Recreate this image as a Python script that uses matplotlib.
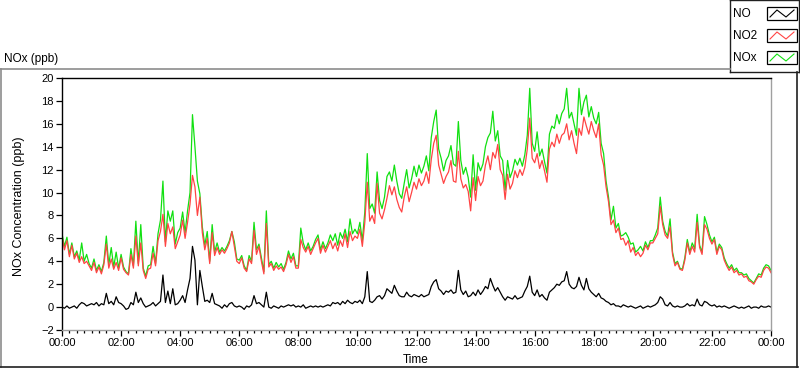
import numpy as np
import matplotlib
matplotlib.use("Agg")
import matplotlib.pyplot as plt
from matplotlib.lines import Line2D
from matplotlib.patches import Rectangle
from matplotlib.ticker import MultipleLocator, FuncFormatter

# 5-minute samples, one row per hour (ppb)
no2 = [
    6.2, 5.0, 5.8, 4.4, 5.4, 4.2, 4.7, 3.9, 4.4, 3.8, 4.0, 3.6,
    3.2, 3.9, 3.0, 3.5, 2.9, 3.7, 5.5, 3.4, 4.2, 3.3, 3.9, 3.2,
    4.3, 3.3, 3.0, 2.8, 4.6, 3.4, 6.2, 3.6, 5.6, 3.2, 2.5, 3.3,
    3.4, 4.7, 3.6, 5.8, 6.6, 8.1, 5.3, 7.3, 6.4, 7.0, 5.1, 5.7,
    6.3, 7.6, 6.0, 7.4, 9.0, 11.5, 10.5, 8.0, 9.6, 6.5, 5.0, 6.0,
    3.8, 6.5, 4.5, 5.2, 4.6, 5.0, 4.7, 5.1, 5.6, 6.6, 5.3, 4.0,
    3.8, 4.3, 3.4, 3.1, 4.2, 3.8, 6.7, 4.6, 5.3, 4.0, 2.9, 7.3,
    3.5, 3.8, 3.2, 3.6, 3.3, 3.5, 3.1, 3.7, 4.6, 3.9, 4.4, 3.4,
    3.4, 5.9, 5.2, 4.8, 5.3, 4.6, 5.1, 5.6, 6.0, 4.7, 5.4, 4.8,
    5.3, 5.8, 5.1, 5.6, 4.9, 5.8, 5.3, 6.4, 5.2, 6.6, 5.8, 6.2,
    6.0, 6.8, 5.3, 7.4, 10.9, 7.5, 8.0, 7.3, 10.8, 8.2, 7.7, 8.5,
    9.5, 10.6, 9.8, 10.5, 9.4, 8.7, 8.3, 9.6, 10.5, 9.2, 10.0, 10.9,
    10.3, 11.2, 10.6, 11.0, 11.8, 10.8, 12.9, 14.3, 15.0, 12.4, 11.6, 10.8,
    11.4, 11.8, 12.8, 11.0, 10.9, 13.6, 11.2, 10.4, 10.7, 10.1, 8.4, 11.3,
    9.3, 11.4, 10.6, 11.0, 12.4, 13.2, 12.0, 13.5, 13.0, 14.2, 12.0, 11.5,
    9.4, 11.6, 10.3, 10.8, 11.9, 11.3, 12.0, 11.5, 12.2, 13.8, 16.5, 13.0,
    12.6, 13.4, 12.1, 12.8, 11.9, 10.9, 13.8, 14.4, 14.0, 15.1, 14.3, 15.0,
    15.2, 16.0, 14.6, 15.4, 14.3, 13.4, 15.6, 15.0, 16.6, 15.8, 15.1, 16.2,
    15.4, 14.8, 16.0, 13.3, 12.4, 10.5, 9.2, 7.2, 7.6, 6.5, 6.9, 5.9,
    6.0, 5.4, 5.8, 4.8, 5.2, 4.5, 4.8, 4.4, 4.7, 5.4, 5.0, 5.6,
    5.6, 6.0, 6.4, 8.8, 7.2, 6.3, 6.0, 7.0, 4.6, 3.6, 3.9, 3.3,
    3.2, 4.1, 5.6, 4.6, 5.3, 4.8, 7.4, 5.2, 4.6, 7.2, 6.8, 6.0,
    5.5, 5.9, 4.6, 5.3, 5.0, 4.1, 3.6, 3.2, 3.5, 3.0, 3.2, 2.8,
    2.9, 2.6, 2.7, 2.3, 2.2, 2.0, 2.4, 2.7, 2.6, 3.2, 3.5, 3.4, 3.0,
]

nox = [
    6.4, 5.3, 6.1, 4.6, 5.6, 4.4, 4.9, 4.1, 5.6, 4.0, 4.6, 3.8,
    3.4, 4.2, 3.2, 3.7, 3.1, 3.9, 6.2, 3.7, 5.2, 3.5, 4.8, 3.4,
    4.6, 3.5, 3.1, 2.9, 5.1, 3.6, 7.5, 3.8, 7.2, 3.4, 2.7, 3.6,
    3.7, 5.3, 3.8, 6.4, 7.6, 11.0, 5.7, 8.4, 7.5, 8.4, 5.5, 6.5,
    6.9, 8.3, 6.5, 8.4, 10.0, 16.8, 14.0, 11.0, 9.9, 7.0, 5.4, 6.6,
    4.0, 7.2, 4.8, 5.6, 4.8, 5.2, 4.9, 5.3, 5.8, 6.6, 5.7, 4.2,
    4.1, 4.5, 3.6, 3.2, 4.5, 4.0, 7.4, 5.0, 5.5, 4.3, 3.1, 8.4,
    3.7, 4.0, 3.4, 3.9, 3.5, 3.8, 3.3, 3.9, 4.9, 4.2, 4.7, 3.6,
    3.6, 6.9, 5.6, 5.0, 5.6, 4.9, 5.3, 5.9, 6.3, 5.0, 5.7, 5.1,
    5.6, 6.3, 5.8, 6.4, 5.4, 6.5, 6.0, 6.8, 5.7, 7.7, 6.4, 6.8,
    6.4, 7.4, 5.8, 8.3, 13.4, 8.6, 9.0, 8.2, 11.8, 9.3, 8.6, 9.6,
    11.4, 11.8, 11.0, 12.4, 11.0, 9.9, 9.5, 10.8, 12.0, 10.4, 11.2, 12.3,
    11.4, 12.4, 11.7, 12.3, 13.2, 11.9, 14.8, 16.2, 17.2, 13.8, 13.0, 11.9,
    12.8, 13.2, 14.1, 12.5, 12.3, 16.2, 12.8, 11.6, 12.2, 11.3, 9.6, 13.3,
    10.2, 12.6, 11.9, 12.5, 14.0, 14.8, 15.2, 17.1, 14.5, 15.4, 13.2, 12.8,
    10.2, 12.8, 11.3, 11.9, 12.9, 12.4, 13.0, 12.3, 13.3, 15.0, 19.1, 14.3,
    13.6, 15.3, 13.2, 13.8, 12.7, 11.7, 15.1, 15.8, 15.6, 16.8, 16.0, 16.9,
    17.3, 19.1, 16.5, 17.0, 16.0, 15.0, 19.1, 16.8, 17.9, 18.5, 16.6, 17.5,
    16.5, 16.0, 17.0, 14.3, 13.4, 11.0, 9.6, 7.6, 8.8, 6.9, 7.3, 6.2,
    6.3, 6.5, 6.1, 5.5, 5.6, 4.8, 5.0, 5.3, 4.9, 5.7, 5.2, 5.8,
    5.8, 6.3, 6.9, 9.6, 7.5, 6.6, 6.2, 7.7, 4.8, 3.8, 4.0, 3.4,
    3.3, 4.3, 5.9, 4.8, 5.6, 5.1, 8.1, 5.4, 4.8, 7.9, 7.2, 6.3,
    5.7, 6.1, 4.8, 5.5, 5.2, 4.3, 3.8, 3.4, 3.7, 3.2, 3.4, 3.0,
    3.0, 2.8, 2.9, 2.5, 2.3, 2.1, 2.5, 2.9, 2.8, 3.4, 3.7, 3.6, 3.2,
]

no = [
    0.0, -0.1, 0.1, -0.1, 0.0, 0.1, -0.1, 0.2, 0.4, 0.3, 0.1, 0.2,
    0.3, 0.2, 0.4, 0.1, 0.3, 0.2, 1.2, 0.3, 0.5, 0.2, 0.9, 0.4,
    0.3, 0.1, -0.2, -0.1, 0.4, 0.2, 1.3, 0.4, 0.8, 0.3, 0.0, 0.1,
    0.2, 0.4, 0.1, 0.3, 0.5, 2.8, 0.4, 1.4, 0.3, 1.6, 0.2, 0.3,
    0.6, 1.0, 0.4, 1.5, 2.5, 5.3, 4.1, 0.2, 3.2, 1.8, 0.5, 0.6,
    0.4, 1.2, 0.3, 0.2, 0.1, -0.1, 0.2, 0.0, 0.3, 0.4, 0.1, 0.0,
    0.1, 0.0, -0.2, 0.1, 0.0, 0.2, 1.0, 0.3, 0.4, 0.2, 0.0, 1.3,
    0.0, -0.1, 0.1, 0.0, -0.1, 0.1, 0.0, 0.1, 0.2, 0.1, 0.2, 0.0,
    0.1, 0.0, 0.2, -0.1, 0.0, 0.1, 0.0, 0.1, 0.0, 0.1, 0.0, 0.1,
    0.2, 0.1, 0.4, 0.3, 0.4, 0.2, 0.5, 0.3, 0.6, 0.4, 0.3, 0.5,
    0.4, 0.6, 0.3, 0.9, 3.1, 0.5, 0.4, 0.6, 0.9, 1.0, 0.7, 1.0,
    1.6, 1.4, 1.2, 1.9, 1.4, 1.0, 0.9, 0.9, 1.3, 1.0, 0.9, 1.1,
    1.0, 0.9, 1.1, 0.9, 1.0, 1.1, 1.8, 2.2, 2.4, 1.6, 1.4, 1.1,
    1.4, 1.3, 1.5, 1.2, 1.3, 3.2, 1.5, 1.1, 1.4, 0.9, 1.0, 1.3,
    1.0, 1.5, 1.1, 1.4, 1.8, 1.6, 2.5, 1.9, 1.4, 1.7, 1.3, 0.9,
    0.6, 0.9, 0.8, 0.7, 1.0, 0.7, 0.8, 0.9, 1.4, 1.8, 2.7, 1.3,
    1.0, 1.5, 0.9, 1.1, 0.8, 0.6, 1.3, 1.5, 1.7, 2.0, 1.9, 2.2,
    2.3, 3.1, 2.0, 1.7, 1.6, 1.8, 2.6, 1.9, 1.5, 2.5, 1.6, 1.3,
    1.1, 0.9, 1.2, 0.8, 0.7, 0.5, 0.4, 0.2, 0.3, 0.1, 0.1, 0.0,
    0.2, 0.1, 0.0, 0.1, 0.0, -0.1, 0.0, 0.1, -0.1, 0.0, 0.1, 0.0,
    0.1, 0.2, 0.4, 0.9, 0.7, 0.2, 0.1, 0.4, 0.1, 0.0, 0.1, 0.0,
    0.0, 0.1, 0.3, 0.1, 0.2, 0.1, 0.7, 0.2, 0.1, 0.5, 0.4, 0.2,
    0.1, 0.2, 0.0, 0.1, 0.0, 0.1, 0.0, -0.1, 0.0, 0.1, 0.0, -0.1,
    0.0, -0.1, 0.0, 0.1, -0.1, 0.0, 0.0, -0.1, 0.1, 0.0, 0.0, 0.1, 0.0,
]

series_names = ["NO", "NO2", "NOx"]
series_colors = {"NO": "black", "NO2": "#ff4444", "NOx": "#11e011"}
SAMPLE_MIN = 5

W, H = 800, 369


def fx(px):
    return px / W


def fy(py):
    return 1 - py / H


plt.rcParams["font.family"] = ["Liberation Sans", "DejaVu Sans"]

hours = np.arange(len(no2)) * SAMPLE_MIN / 60.0

fig = plt.figure(figsize=(8, 3.69), dpi=100)
fig.patch.set_facecolor("white")

# outer sunken frame
frame = dict(transform=fig.transFigure, lw=1.2)
fig.add_artist(Line2D([fx(0), fx(730)], [fy(69), fy(69)], color="#8c8c8c", **frame))
fig.add_artist(Line2D([fx(1), fx(1)], [fy(69), fy(367)], color="#8c8c8c", **frame))
fig.add_artist(Line2D([fx(0), fx(798)], [fy(367), fy(367)], color="#202020", **frame))
fig.add_artist(Line2D([fx(797), fx(797)], [fy(72), fy(367)], color="#202020", **frame))

ax = fig.add_axes([fx(62), fy(330), fx(771) - fx(62), fy(78) - fy(330)])
ax.plot(hours, nox, color=series_colors["NOx"], lw=0.9)
ax.plot(hours, no2, color=series_colors["NO2"], lw=0.9)
ax.plot(hours, no, color=series_colors["NO"], lw=0.9)

ax.set_xlim(0, 24)
ax.set_ylim(-2, 20)
ax.yaxis.set_major_locator(MultipleLocator(2))
ax.xaxis.set_major_locator(MultipleLocator(2))
ax.xaxis.set_minor_locator(MultipleLocator(0.25))
ax.xaxis.set_major_formatter(FuncFormatter(lambda v, p: f"{int(round(v)) % 24:02d}:00"))
ax.tick_params(labelsize=8, length=4, width=0.9, pad=2, colors="black")
ax.tick_params(axis="x", which="minor", length=2.5, width=0.9)
ax.spines["top"].set_color("black")
ax.spines["left"].set_color("black")
ax.spines["right"].set_color("#a0a0a0")
ax.spines["bottom"].set_color("#a0a0a0")
for s in ax.spines.values():
    s.set_linewidth(1.0)

fig.text(fx(4), fy(59), "NOx (ppb)", fontsize=8.5, va="center", ha="left")
fig.text(fx(19), fy(206), "NOx Concentration (ppb)", fontsize=9, rotation=90,
         va="center", ha="center")
fig.text(fx(416), fy(360), "Time", fontsize=8.5, va="center", ha="center")

# legend box in the top-right corner
lax = fig.add_axes([fx(730), fy(72), fx(799) - fx(730), fy(0) - fy(72)])
lax.set_xlim(0, 69)
lax.set_ylim(72, 0)
lax.set_xticks([])
lax.set_yticks([])
for s in lax.spines.values():
    s.set_color("#202020")
    s.set_linewidth(1.0)
zig_x = np.array([3, 10, 19, 27])
zig_y = np.array([9, 2, 9, 2])
for i, name in enumerate(series_names):
    ty = 14 + i * 22
    lax.text(3, ty, name, fontsize=8.5, va="center", ha="left")
    top = ty - 7
    lax.add_patch(Rectangle((37, top), 30, 13, fill=False, ec="black", lw=0.9))
    lax.plot(37 + zig_x, top + zig_y + 1, color=series_colors[name], lw=0.8)

fig.savefig("out.png", dpi=100)
